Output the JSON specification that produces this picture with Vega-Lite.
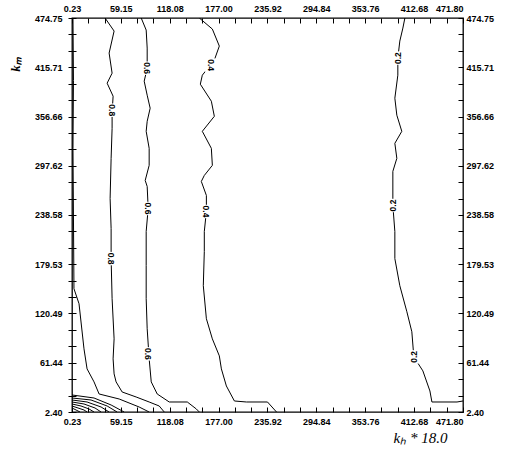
{
  "$schema": "https://vega.github.io/schema/vega-lite/v6.json",
  "autosize": {"type": "none"},
  "padding": {"left": 72, "top": 18, "right": 44, "bottom": 39},
  "width": 391,
  "height": 394,
  "background": "white",
  "config": {
    "view": {"stroke": "black", "strokeWidth": 1.3},
    "axis": {
      "grid": false,
      "labelFont": "Liberation Sans",
      "labelFontWeight": "bold",
      "labelFontSize": 9,
      "labelColor": "black",
      "tickColor": "black",
      "domain": false,
      "tickWidth": 1,
      "ticks": true,
      "tickSize": 5,
      "offset": -5,
      "zindex": 1,
      "labelFlush": false,
      "labelOverlap": false,
      "labelPadding": 5
    }
  },
  "datasets": {
    "lines": [
      {"line": "c10", "i": 0, "x": 1.4, "y": 474.75},
      {"line": "c10", "i": 1, "x": 2.0, "y": 400.0},
      {"line": "c10", "i": 2, "x": 1.4, "y": 318.5},
      {"line": "c10", "i": 3, "x": 2.6, "y": 150.2},
      {"line": "c10", "i": 4, "x": 8.7, "y": 132.2},
      {"line": "c10", "i": 5, "x": 14.7, "y": 78.1},
      {"line": "c10", "i": 6, "x": 18.4, "y": 54.1},
      {"line": "c10", "i": 7, "x": 26.8, "y": 38.5},
      {"line": "c10", "i": 8, "x": 32.9, "y": 24.0},
      {"line": "c10", "i": 9, "x": 57.1, "y": 18.0},
      {"line": "c10", "i": 10, "x": 81.2, "y": 8.4},
      {"line": "c10", "i": 11, "x": 93.3, "y": 2.4},

      {"line": "c08", "i": 0, "x": 40.1, "y": 474.75},
      {"line": "c08", "i": 1, "x": 51.0, "y": 459.1},
      {"line": "c08", "i": 2, "x": 45.0, "y": 432.7},
      {"line": "c08", "i": 3, "x": 48.6, "y": 408.6},
      {"line": "c08", "i": 4, "x": 42.6, "y": 396.6},
      {"line": "c08", "i": 5, "x": 49.8, "y": 381.0},
      {"line": "c08", "i": 6, "x": 48.6, "y": 360.6},
      {"line": "c08", "i": 7, "x": 48.6, "y": 342.5},
      {"line": "c08", "i": 8, "x": 47.4, "y": 306.5},
      {"line": "c08", "i": 9, "x": 46.2, "y": 258.4},
      {"line": "c08", "i": 10, "x": 47.4, "y": 222.3},
      {"line": "c08", "i": 11, "x": 47.4, "y": 186.3},
      {"line": "c08", "i": 12, "x": 48.6, "y": 138.2},
      {"line": "c08", "i": 13, "x": 51.0, "y": 90.1},
      {"line": "c08", "i": 14, "x": 49.8, "y": 66.1},
      {"line": "c08", "i": 15, "x": 51.0, "y": 48.1},
      {"line": "c08", "i": 16, "x": 53.4, "y": 38.5},
      {"line": "c08", "i": 17, "x": 60.7, "y": 26.4},
      {"line": "c08", "i": 18, "x": 77.6, "y": 20.4},
      {"line": "c08", "i": 19, "x": 93.3, "y": 14.4},
      {"line": "c08", "i": 20, "x": 105.4, "y": 9.6},
      {"line": "c08", "i": 21, "x": 111.5, "y": 2.4},

      {"line": "c06", "i": 0, "x": 83.7, "y": 474.75},
      {"line": "c06", "i": 1, "x": 89.7, "y": 460.3},
      {"line": "c06", "i": 2, "x": 90.9, "y": 438.7},
      {"line": "c06", "i": 3, "x": 90.9, "y": 414.6},
      {"line": "c06", "i": 4, "x": 87.3, "y": 399.0},
      {"line": "c06", "i": 5, "x": 90.9, "y": 382.2},
      {"line": "c06", "i": 6, "x": 94.5, "y": 366.6},
      {"line": "c06", "i": 7, "x": 90.9, "y": 350.9},
      {"line": "c06", "i": 8, "x": 89.7, "y": 338.9},
      {"line": "c06", "i": 9, "x": 93.3, "y": 318.5},
      {"line": "c06", "i": 10, "x": 93.3, "y": 298.1},
      {"line": "c06", "i": 11, "x": 88.5, "y": 280.0},
      {"line": "c06", "i": 12, "x": 90.9, "y": 272.8},
      {"line": "c06", "i": 13, "x": 92.1, "y": 246.4},
      {"line": "c06", "i": 14, "x": 89.7, "y": 218.8},
      {"line": "c06", "i": 15, "x": 89.7, "y": 177.9},
      {"line": "c06", "i": 16, "x": 89.7, "y": 138.2},
      {"line": "c06", "i": 17, "x": 90.9, "y": 102.2},
      {"line": "c06", "i": 18, "x": 93.3, "y": 66.1},
      {"line": "c06", "i": 19, "x": 95.8, "y": 38.5},
      {"line": "c06", "i": 20, "x": 103.0, "y": 24.0},
      {"line": "c06", "i": 21, "x": 117.5, "y": 14.4},
      {"line": "c06", "i": 22, "x": 139.3, "y": 14.4},
      {"line": "c06", "i": 23, "x": 150.2, "y": 6.0},
      {"line": "c06", "i": 24, "x": 153.8, "y": 2.4},

      {"line": "c04", "i": 0, "x": 153.8, "y": 474.75},
      {"line": "c04", "i": 1, "x": 169.5, "y": 461.5},
      {"line": "c04", "i": 2, "x": 177.9, "y": 441.1},
      {"line": "c04", "i": 3, "x": 171.9, "y": 424.3},
      {"line": "c04", "i": 4, "x": 157.4, "y": 406.2},
      {"line": "c04", "i": 5, "x": 155.0, "y": 395.4},
      {"line": "c04", "i": 6, "x": 168.3, "y": 375.0},
      {"line": "c04", "i": 7, "x": 171.9, "y": 356.9},
      {"line": "c04", "i": 8, "x": 157.4, "y": 338.9},
      {"line": "c04", "i": 9, "x": 168.3, "y": 318.5},
      {"line": "c04", "i": 10, "x": 169.5, "y": 298.1},
      {"line": "c04", "i": 11, "x": 159.8, "y": 286.0},
      {"line": "c04", "i": 12, "x": 156.2, "y": 278.8},
      {"line": "c04", "i": 13, "x": 162.3, "y": 262.0},
      {"line": "c04", "i": 14, "x": 162.3, "y": 242.8},
      {"line": "c04", "i": 15, "x": 159.8, "y": 218.8},
      {"line": "c04", "i": 16, "x": 159.8, "y": 194.7},
      {"line": "c04", "i": 17, "x": 158.6, "y": 153.8},
      {"line": "c04", "i": 18, "x": 162.3, "y": 114.2},
      {"line": "c04", "i": 19, "x": 169.5, "y": 90.1},
      {"line": "c04", "i": 20, "x": 177.9, "y": 69.7},
      {"line": "c04", "i": 21, "x": 180.4, "y": 54.1},
      {"line": "c04", "i": 22, "x": 186.4, "y": 33.6},
      {"line": "c04", "i": 23, "x": 196.1, "y": 15.6},
      {"line": "c04", "i": 24, "x": 210.6, "y": 14.4},
      {"line": "c04", "i": 25, "x": 236.0, "y": 14.4},
      {"line": "c04", "i": 26, "x": 246.9, "y": 2.4},

      {"line": "c02", "i": 0, "x": 401.7, "y": 474.75},
      {"line": "c02", "i": 1, "x": 399.3, "y": 462.7},
      {"line": "c02", "i": 2, "x": 395.6, "y": 447.1},
      {"line": "c02", "i": 3, "x": 393.2, "y": 426.7},
      {"line": "c02", "i": 4, "x": 393.2, "y": 406.2},
      {"line": "c02", "i": 5, "x": 389.6, "y": 378.6},
      {"line": "c02", "i": 6, "x": 392.0, "y": 358.2},
      {"line": "c02", "i": 7, "x": 398.0, "y": 338.9},
      {"line": "c02", "i": 8, "x": 389.6, "y": 324.5},
      {"line": "c02", "i": 9, "x": 392.0, "y": 306.5},
      {"line": "c02", "i": 10, "x": 387.2, "y": 290.9},
      {"line": "c02", "i": 11, "x": 387.2, "y": 250.0},
      {"line": "c02", "i": 12, "x": 389.6, "y": 218.8},
      {"line": "c02", "i": 13, "x": 389.6, "y": 186.3},
      {"line": "c02", "i": 14, "x": 395.6, "y": 153.8},
      {"line": "c02", "i": 15, "x": 404.1, "y": 122.6},
      {"line": "c02", "i": 16, "x": 410.1, "y": 98.6},
      {"line": "c02", "i": 17, "x": 412.5, "y": 68.5},
      {"line": "c02", "i": 18, "x": 423.4, "y": 51.7},
      {"line": "c02", "i": 19, "x": 431.9, "y": 27.6},
      {"line": "c02", "i": 20, "x": 434.3, "y": 14.4},
      {"line": "c02", "i": 21, "x": 464.6, "y": 14.4},
      {"line": "c02", "i": 22, "x": 471.8, "y": 15.6},

      {"line": "k0", "i": 0, "x": 0.23, "y": 22.8},
      {"line": "k0", "i": 1, "x": 26.8, "y": 19.2},
      {"line": "k0", "i": 2, "x": 47.4, "y": 10.8},
      {"line": "k0", "i": 3, "x": 63.1, "y": 2.4},
      {"line": "k1", "i": 0, "x": 0.23, "y": 19.2},
      {"line": "k1", "i": 1, "x": 23.2, "y": 16.8},
      {"line": "k1", "i": 2, "x": 42.6, "y": 9.6},
      {"line": "k1", "i": 3, "x": 54.6, "y": 2.4},
      {"line": "k2", "i": 0, "x": 0.23, "y": 16.8},
      {"line": "k2", "i": 1, "x": 18.4, "y": 14.4},
      {"line": "k2", "i": 2, "x": 35.3, "y": 8.4},
      {"line": "k2", "i": 3, "x": 45.0, "y": 2.4},
      {"line": "k3", "i": 0, "x": 0.23, "y": 14.4},
      {"line": "k3", "i": 1, "x": 14.7, "y": 12.0},
      {"line": "k3", "i": 2, "x": 28.0, "y": 7.2},
      {"line": "k3", "i": 3, "x": 35.3, "y": 2.4},
      {"line": "k4", "i": 0, "x": 0.23, "y": 12.0},
      {"line": "k4", "i": 1, "x": 11.1, "y": 9.6},
      {"line": "k4", "i": 2, "x": 20.8, "y": 6.0},
      {"line": "k4", "i": 3, "x": 26.8, "y": 2.4},
      {"line": "k5", "i": 0, "x": 0.23, "y": 9.6},
      {"line": "k5", "i": 1, "x": 7.5, "y": 7.2},
      {"line": "k5", "i": 2, "x": 14.7, "y": 4.8},
      {"line": "k5", "i": 3, "x": 18.4, "y": 2.4},
      {"line": "k6", "i": 0, "x": 0.23, "y": 7.2},
      {"line": "k6", "i": 1, "x": 5.1, "y": 4.8},
      {"line": "k6", "i": 2, "x": 9.9, "y": 2.4}
    ],
    "labels": [
      {"t": "0.8", "x": 48.6, "y": 364.2},
      {"t": "0.8", "x": 47.4, "y": 186.3},
      {"t": "0.6", "x": 90.9, "y": 414.6},
      {"t": "0.6", "x": 92.1, "y": 246.4},
      {"t": "0.6", "x": 92.1, "y": 72.1},
      {"t": "0.4", "x": 168.3, "y": 418.3},
      {"t": "0.4", "x": 162.3, "y": 242.8},
      {"t": "0.2", "x": 393.2, "y": 426.7},
      {"t": "0.2", "x": 387.2, "y": 250.0},
      {"t": "0.2", "x": 412.5, "y": 68.5}
    ]
  },
  "layer": [
    {
      "data": {"name": "lines"},
      "mark": {"type": "line", "color": "black", "strokeWidth": 1, "clip": true},
      "encoding": {
        "x": {
          "field": "x", "type": "quantitative",
          "scale": {"domain": [0.23, 471.8], "nice": false, "zero": false},
          "axis": {
            "orient": "bottom",
            "values": [0.23, 19.87, 39.51, 59.15, 78.79, 98.44, 118.08, 137.72, 157.36, 177.0, 196.64, 216.28, 235.92, 255.56, 275.2, 294.84, 314.48, 334.12, 353.76, 373.4, 393.04, 412.68, 432.39, 452.09, 471.8],
            "labelExpr": "indexof(['0.23','59.15','118.08','177.00','235.92','294.84','353.76','412.68','471.80'], format(datum.value, '.2f')) >= 0 ? format(datum.value, '.2f') : ''",
            "labelAlign": {"condition": {"test": "datum.value > 470", "value": "right"}, "value": "center"},
            "labelPadding": 5,
            "title": "kₕ * 18.0",
            "titleFont": "Liberation Serif",
            "titleFontStyle": "italic",
            "titleFontWeight": "normal",
            "titleFontSize": 15,
            "titleColor": "black",
            "titleX": 348,
            "titleY": 35,
            "titleAlign": "center",
            "titleBaseline": "alphabetic"
          }
        },
        "y": {
          "field": "y", "type": "quantitative",
          "scale": {"domain": [2.4, 474.75], "nice": false, "zero": false},
          "axis": {
            "orient": "left",
            "offset": -4,
            "tickSize": 8,
            "labelPadding": 6,
            "values": [2.4, 22.08, 41.76, 61.44, 81.12, 100.81, 120.49, 140.17, 159.85, 179.53, 199.21, 218.9, 238.58, 258.26, 277.94, 297.62, 317.3, 336.98, 356.66, 376.34, 396.03, 415.71, 435.39, 455.07, 474.75],
            "labelExpr": "indexof(['2.40','61.44','120.49','179.53','238.58','297.62','356.66','415.71','474.75'], format(datum.value, '.2f')) >= 0 ? format(datum.value, '.2f') : ''",
            "title": "kₘ",
            "titleFont": "Liberation Serif",
            "titleFontStyle": "italic",
            "titleFontWeight": "bold",
            "titleFontSize": 13,
            "titleColor": "black",
            "titleAngle": 270,
            "titleX": -61,
            "titleY": 46,
            "titleAlign": "center",
            "titleBaseline": "middle"
          }
        },
        "detail": {"field": "line"},
        "order": {"field": "i", "type": "quantitative"}
      }
    },
    {
      "data": {"name": "labels"},
      "mark": {"type": "square", "color": "white", "filled": true, "opacity": 1, "size": 180},
      "encoding": {
        "x": {"field": "x", "type": "quantitative", "scale": {"domain": [0.23, 471.8], "nice": false, "zero": false}, "axis": null},
        "y": {"field": "y", "type": "quantitative", "scale": {"domain": [2.4, 474.75], "nice": false, "zero": false}, "axis": null}
      }
    },
    {
      "data": {"name": "labels"},
      "transform": [{"filter": "datum.t != '0.2'"}],
      "mark": {"type": "text", "font": "Liberation Sans", "fontWeight": "bold", "fontSize": 8.5, "angle": 90, "color": "black", "align": "center", "baseline": "middle"},
      "encoding": {
        "x": {
          "field": "x", "type": "quantitative",
          "scale": {"domain": [0.23, 471.8], "nice": false, "zero": false},
          "axis": {
            "orient": "top",
            "labelPadding": 5,
            "values": [0.23, 19.87, 39.51, 59.15, 78.79, 98.44, 118.08, 137.72, 157.36, 177.0, 196.64, 216.28, 235.92, 255.56, 275.2, 294.84, 314.48, 334.12, 353.76, 373.4, 393.04, 412.68, 432.39, 452.09, 471.8],
            "labelExpr": "indexof(['0.23','59.15','118.08','177.00','235.92','294.84','353.76','412.68','471.80'], format(datum.value, '.2f')) >= 0 ? format(datum.value, '.2f') : ''",
            "labelAlign": {"condition": {"test": "datum.value > 470", "value": "right"}, "value": "center"},
            "title": null
          }
        },
        "y": {
          "field": "y", "type": "quantitative",
          "scale": {"domain": [2.4, 474.75], "nice": false, "zero": false},
          "axis": {
            "orient": "right",
            "labelPadding": 3,
            "values": [2.4, 22.08, 41.76, 61.44, 81.12, 100.81, 120.49, 140.17, 159.85, 179.53, 199.21, 218.9, 238.58, 258.26, 277.94, 297.62, 317.3, 336.98, 356.66, 376.34, 396.03, 415.71, 435.39, 455.07, 474.75],
            "labelExpr": "indexof(['2.40','61.44','120.49','179.53','238.58','297.62','356.66','415.71','474.75'], format(datum.value, '.2f')) >= 0 ? format(datum.value, '.2f') : ''",
            "title": null
          }
        },
        "text": {"field": "t", "type": "nominal"}
      }
    },
    {
      "data": {"name": "labels"},
      "transform": [{"filter": "datum.t == '0.2'"}],
      "mark": {"type": "text", "font": "Liberation Sans", "fontWeight": "bold", "fontSize": 8.5, "angle": 270, "color": "black", "align": "center", "baseline": "middle"},
      "encoding": {
        "x": {"field": "x", "type": "quantitative", "scale": {"domain": [0.23, 471.8], "nice": false, "zero": false}, "axis": null},
        "y": {"field": "y", "type": "quantitative", "scale": {"domain": [2.4, 474.75], "nice": false, "zero": false}, "axis": null},
        "text": {"field": "t", "type": "nominal"}
      }
    }
  ],
  "resolve": {"axis": {"x": "independent", "y": "independent"}}
}
